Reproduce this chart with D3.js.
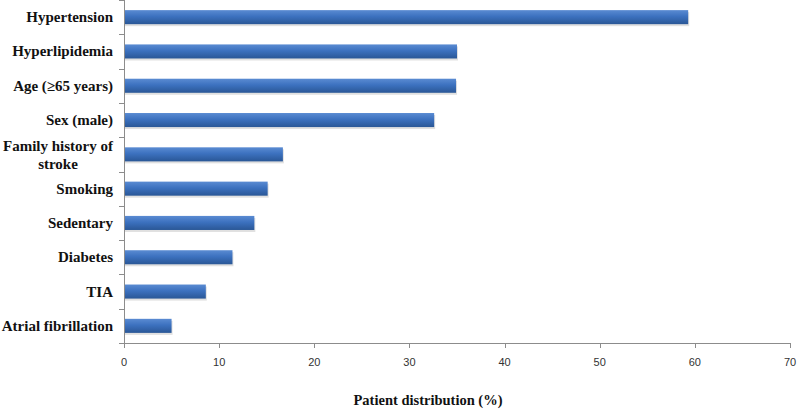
<!DOCTYPE html>
<html>
<head>
<meta charset="utf-8">
<script src="https://cdn.jsdelivr.net/npm/d3@7"></script>
<style>
  body { margin: 0; background: #fff; }
  .cat-label { font-family: "Liberation Serif", "Times New Roman", serif; font-weight: bold; font-size: 15px; fill: #111; }
  .tick-label { font-family: "Liberation Sans", Arial, sans-serif; font-size: 11px; fill: #333; }
  .axis-title { font-family: "Liberation Serif", "Times New Roman", serif; font-weight: bold; font-size: 14.5px; fill: #111; }
</style>
</head>
<body>
<svg id="chart" width="800" height="410"></svg>
<script>
  // risk factors, top to bottom
  var categories = ["Hypertension", "Hyperlipidemia", "Age (\u226565 years)", "Sex (male)",
    "Family history of stroke", "Smoking", "Sedentary", "Diabetes", "TIA", "Atrial fibrillation"];
  var values = [59.3, 35.0, 34.9, 32.6, 16.7, 15.1, 13.7, 11.4, 8.6, 5.0];
  var xTicks = [0, 10, 20, 30, 40, 50, 60, 70];
  var xTitle = "Patient distribution (%)";

  var margin_left = 124;
  var plotRight = 790;
  var margin_top = 0;
  var plotBottom = 343;

  var svg = d3.select("#chart");

  var defs = svg.append("defs");
  var grad = defs.append("linearGradient")
    .attr("id", "barGrad")
    .attr("x1", 0).attr("y1", 0).attr("x2", 0).attr("y2", 1);
  grad.append("stop").attr("offset", "0%").attr("stop-color", "#5a8bd2");
  grad.append("stop").attr("offset", "45%").attr("stop-color", "#3c71bf");
  grad.append("stop").attr("offset", "100%").attr("stop-color", "#2a5796");

  var x = d3.scaleLinear().domain([0, 70]).range([margin_left, plotRight]);
  var y = d3.scaleBand().domain(categories).range([margin_top, plotBottom]).paddingInner(0.59).paddingOuter(0.295);
  var yTicks = d3.scaleBand().domain(categories).range([margin_top, plotBottom]);

  var data = categories.map(function(c, i) { return { cat: c, val: values[i] }; });

  // bar shadows
  svg.append("g").selectAll("rect")
    .data(data)
    .enter()
    .append("rect")
    .attr("x", x(0) + 1)
    .attr("y", function(d) { return y(d.cat) + 2; })
    .attr("width", function(d) { return x(d.val) - x(0); })
    .attr("height", y.bandwidth())
    .attr("fill", "#000")
    .attr("opacity", 0.12);

  svg.append("g").selectAll("rect")
    .data(data)
    .enter()
    .append("rect")
    .attr("x", x(0))
    .attr("y", function(d) { return y(d.cat); })
    .attr("width", function(d) { return x(d.val) - x(0); })
    .attr("height", y.bandwidth())
    .attr("fill", "url(#barGrad)");

  // y axis line and ticks
  var axisColor = "#8c8c8c";
  svg.append("line")
    .attr("x1", x(0) + 0.5).attr("x2", x(0) + 0.5)
    .attr("y1", margin_top).attr("y2", plotBottom)
    .attr("stroke", axisColor);
  svg.append("g").selectAll("line")
    .data(categories.concat(["__end"]))
    .enter()
    .append("line")
    .attr("x1", x(0) - 5).attr("x2", x(0))
    .attr("y1", function(d, i) { return Math.round(margin_top + i * yTicks.step()) + 0.5; })
    .attr("y2", function(d, i) { return Math.round(margin_top + i * yTicks.step()) + 0.5; })
    .attr("stroke", axisColor);

  // x axis
  svg.append("line")
    .attr("x1", x(0)).attr("x2", plotRight)
    .attr("y1", plotBottom + 0.5).attr("y2", plotBottom + 0.5)
    .attr("stroke", axisColor);
  var xt = svg.append("g").selectAll("g")
    .data(xTicks)
    .enter()
    .append("g");
  xt.append("line")
    .attr("x1", function(d) { return Math.round(x(d)) + 0.5; })
    .attr("x2", function(d) { return Math.round(x(d)) + 0.5; })
    .attr("y1", plotBottom).attr("y2", plotBottom + 5)
    .attr("stroke", axisColor);
  xt.append("text")
    .attr("class", "tick-label")
    .attr("x", function(d) { return x(d); })
    .attr("y", plotBottom + 23)
    .attr("text-anchor", "middle")
    .text(function(d) { return d; });

  // category labels, long one wraps onto two centred lines
  var labelRight = 113;
  var labels = svg.append("g").selectAll("text")
    .data(categories)
    .enter()
    .append("text")
    .attr("class", "cat-label");
  labels.each(function(c) {
    var t = d3.select(this);
    var cy = y(c) + y.bandwidth() / 2;
    if (c == "Family history of stroke") {
      var lines = ["Family history of", "stroke"];
      t.attr("text-anchor", "middle");
      lines.forEach(function(l, i) {
        t.append("tspan").attr("y", cy - 8 + i * 18 + 5).text(l);
      });
      var w = 0;
      t.selectAll("tspan").each(function() { w = Math.max(w, this.getComputedTextLength()); });
      t.selectAll("tspan").attr("x", labelRight - w / 2);
    } else {
      t.attr("x", labelRight)
        .attr("y", cy + 5)
        .attr("text-anchor", "end")
        .text(c);
    }
  });

  svg.append("text")
    .attr("class", "axis-title")
    .attr("x", 428)
    .attr("y", 405)
    .attr("text-anchor", "middle")
    .text(xTitle);
</script>
</body>
</html>
